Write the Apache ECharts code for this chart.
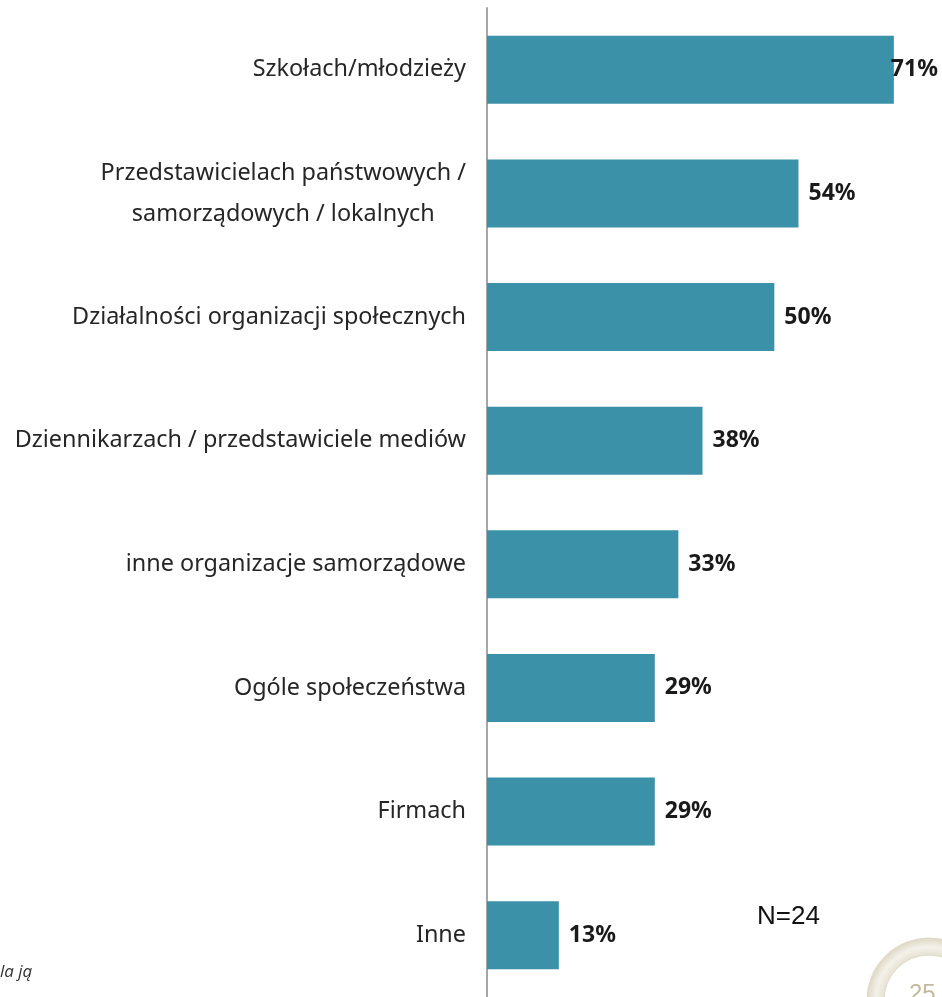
<!DOCTYPE html>
<html>
<head>
<meta charset="utf-8">
<script src="https://cdn.jsdelivr.net/npm/echarts@6/dist/echarts.min.js"></script>
<style>html,body{margin:0;padding:0;background:#fff}#c{width:942px;height:997px}</style>
</head>
<body>
<div id="c"></div>
<script>
var categories = [
  'Szkołach/młodzieży',
  'Przedstawicielach państwowych /\nsamorządowych / lokalnych',
  'Działalności organizacji społecznych',
  'Dziennikarzach / przedstawiciele mediów',
  'inne organizacje samorządowe',
  'Ogóle społeczeństwa',
  'Firmach',
  'Inne'
];
var values = [70.8, 54.2, 50.0, 37.5, 33.3, 29.2, 29.2, 12.5];
var sampleNote = 'N=24';
var footNote = 'la ją';
var pageNumber = '25';

var chart = echarts.init(document.getElementById('c'), null, {renderer: 'canvas'});
var data = values.map(function (v, i) {
  var item = {value: v};
  if (i === 0) item.label = {distance: -3};
  return item;
});
var labFont = 'Noto Sans';
chart.setOption({
  animation: false,
  grid: {left: 487, top: 8, width: 431, height: 995.5, containLabel: false},
  xAxis: {type: 'value', min: 0, max: 75, show: false},
  yAxis: {
    type: 'category', data: categories, inverse: true,
    axisLine: {show: true, lineStyle: {color: '#a6a6a6', width: 2}},
    axisTick: {show: false},
    axisLabel: {
      margin: 21, fontSize: 23.4, fontFamily: labFont, color: '#262626',
      lineHeight: 41,
      formatter: function (v) {
        return v.split('\n').map(function (l) { return '{c|' + l + '}'; }).join('\n');
      },
      rich: {c: {align: 'center', fontSize: 23.4, fontFamily: labFont, color: '#262626', lineHeight: 41}}
    }
  },
  series: [{
    type: 'bar', data: data, barWidth: 68,
    itemStyle: {color: '#3a91a8'},
    label: {
      show: true, position: 'right', distance: 10,
      fontSize: 23, fontWeight: 'bold', fontFamily: labFont, color: '#1a1a1a',
      formatter: function (p) { return Math.round(p.value) + '%'; }
    }
  }],
  graphic: [
    {type: 'text', left: 757, top: 904, style: {text: sampleNote, font: '26px "Liberation Sans"', fill: '#111'}},
    {type: 'text', left: 0, top: 964, style: {text: footNote, font: 'italic 17px "Open Sans"', fill: '#333'}},
    {type: 'ring', shape: {cx: 929, cy: 1000, r: 62, r0: 45},
      style: {fill: {type: 'radial', x: 0.5, y: 0.5, r: 0.5, colorStops: [
        {offset: 0.7, color: '#e4dfcf'}, {offset: 0.85, color: '#f4f1ea'}, {offset: 1, color: '#ddd6c2'}]},
        stroke: '#e0d9c6', lineWidth: 1}},
    {type: 'text', left: 909, top: 982, style: {text: pageNumber, font: '24px "Liberation Sans"', fill: '#c2b89c'}}
  ]
});
</script>
</body>
</html>
